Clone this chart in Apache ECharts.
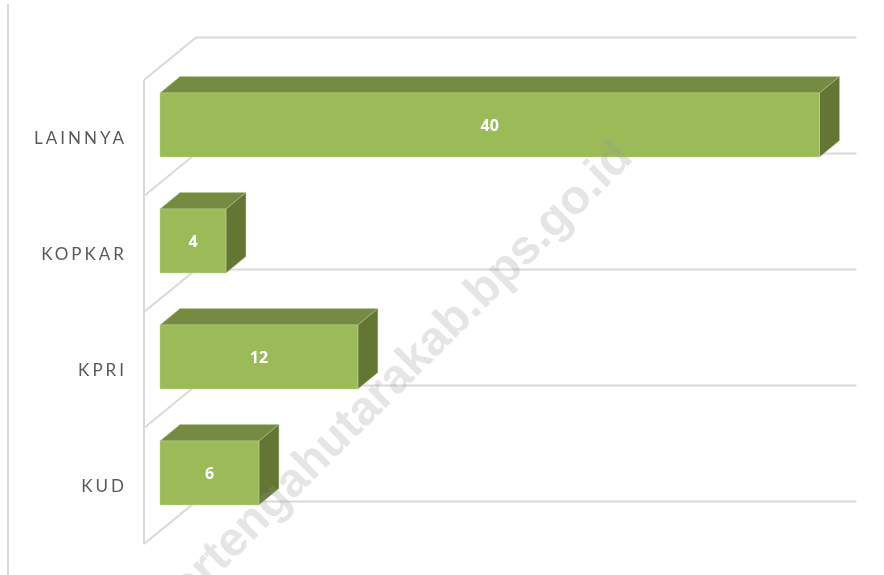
<!DOCTYPE html>
<html><head><meta charset="utf-8">
<style>html,body{margin:0;padding:0;background:#fff}#c{width:884px;height:575px}</style>
<script src="https://cdn.jsdelivr.net/npm/echarts@6/dist/echarts.min.js"></script>
</head><body><div id="c"></div>
<script>
const categories = ['KUD', 'KPRI', 'KOPKAR', 'LAINNYA'];
const values = [6, 12, 4, 40];
const watermark = 'timortengahutarakab.bps.go.id';

// The axis labels are letter-spaced in the reference; the canvas applies it while drawing them.
const rawFill = CanvasRenderingContext2D.prototype.fillText;
CanvasRenderingContext2D.prototype.fillText = function (t, x, y, m) {
  const isLabel = categories.includes(t);
  this.letterSpacing = isLabel ? '3px' : '0px';
  const py = isLabel ? y + 1 : y;
  if (m === undefined) rawFill.call(this, t, x, py); else rawFill.call(this, t, x, py, m);
  this.letterSpacing = '0px';
};

const WALL = '#d9d9d9';
const barPlane = [16, -13], depth = [20, -16.5], wallDepth = [52, -42.5], barRatio = 64 / 116;

function renderWall(params, api) {
  const i = api.value(0);
  const c = api.coord([0, i]), end = api.coord([40, i]), band = api.size([0, 1])[1];
  const lineStyle = { stroke: WALL, lineWidth: 2, fill: null };
  const children = [];
  const addEdge = y => {
    children.push({ type: 'polyline', shape: { points: [
      [c[0], y], [c[0] + wallDepth[0], y + wallDepth[1]], [end[0] + wallDepth[0] + 1, y + wallDepth[1]]
    ] }, style: lineStyle });
  };
  addEdge(c[1] + band / 2);
  if (i === categories.length - 1) addEdge(c[1] - band / 2);
  children.push({ type: 'line', shape: { x1: c[0], y1: c[1] - band / 2, x2: c[0], y2: c[1] + band / 2 }, style: lineStyle });
  return { type: 'group', children };
}

function renderBar(params, api) {
  const v = api.value(0), i = api.value(1);
  const a = api.coord([0, i]), b = api.coord([v, i]);
  const h = api.size([0, 1])[1] * barRatio;
  const x0 = a[0] + barPlane[0], x1 = b[0] + barPlane[0];
  const yc = a[1] + barPlane[1], y0 = yc - h / 2, y1 = yc + h / 2;
  const [dx, dy] = depth;
  return { type: 'group', children: [
    { type: 'polygon', shape: { points: [[x0, y0], [x0 + dx, y0 + dy], [x1 + dx, y0 + dy], [x1, y0]] }, style: { fill: '#768b42', stroke: '#b9c99a', lineWidth: 0.5 } },
    { type: 'polygon', shape: { points: [[x1, y0], [x1 + dx, y0 + dy], [x1 + dx, y1 + dy], [x1, y1]] }, style: { fill: '#647633', stroke: '#b9c99a', lineWidth: 0.5 } },
    { type: 'rect', shape: { x: x0, y: y0, width: x1 - x0, height: h }, style: { fill: '#9bbb59', stroke: '#c3d69b', lineWidth: 0.5 } },
    { type: 'text', x: (x0 + x1) / 2, y: yc + 1, style: { text: String(v), fill: '#fff', font: 'bold 16px "Open Sans"', align: 'center', verticalAlign: 'middle' } }
  ] };
}

const chart = echarts.init(document.getElementById('c'), null, { renderer: 'canvas' });
chart.setOption({
  animation: false,
  backgroundColor: '#fff',
  grid: { left: 144, top: 80, width: 659.5, height: 464 },
  xAxis: { type: 'value', min: 0, max: 40, show: false },
  yAxis: {
    type: 'category', data: categories,
    axisLine: { show: false }, axisTick: { show: false }, splitLine: { show: false },
    axisLabel: { color: '#595959', fontFamily: 'Lato', fontSize: 17, margin: 17 }
  },
  series: [
    { type: 'custom', z: 1, silent: true, clip: false, renderItem: renderWall, encode: { y: 0 }, data: categories.map((c, i) => [i]) },
    { type: 'custom', z: 2, silent: true, clip: false, renderItem: renderBar, encode: { x: 0, y: 1 }, data: values.map((v, i) => [v, i]) }
  ],
  graphic: [
    { type: 'line', z: 0, shape: { x1: 8, y1: 4, x2: 8, y2: 575 }, style: { stroke: WALL, lineWidth: 2 } },
    { type: 'text', z: 100, x: 625, y: 150, rotation: 45 * Math.PI / 180, silent: true,
      style: { text: watermark, font: 'bold 48px "Liberation Sans"', fill: 'rgba(150,150,150,0.25)', align: 'right', verticalAlign: 'middle' } }
  ]
});
</script></body></html>
